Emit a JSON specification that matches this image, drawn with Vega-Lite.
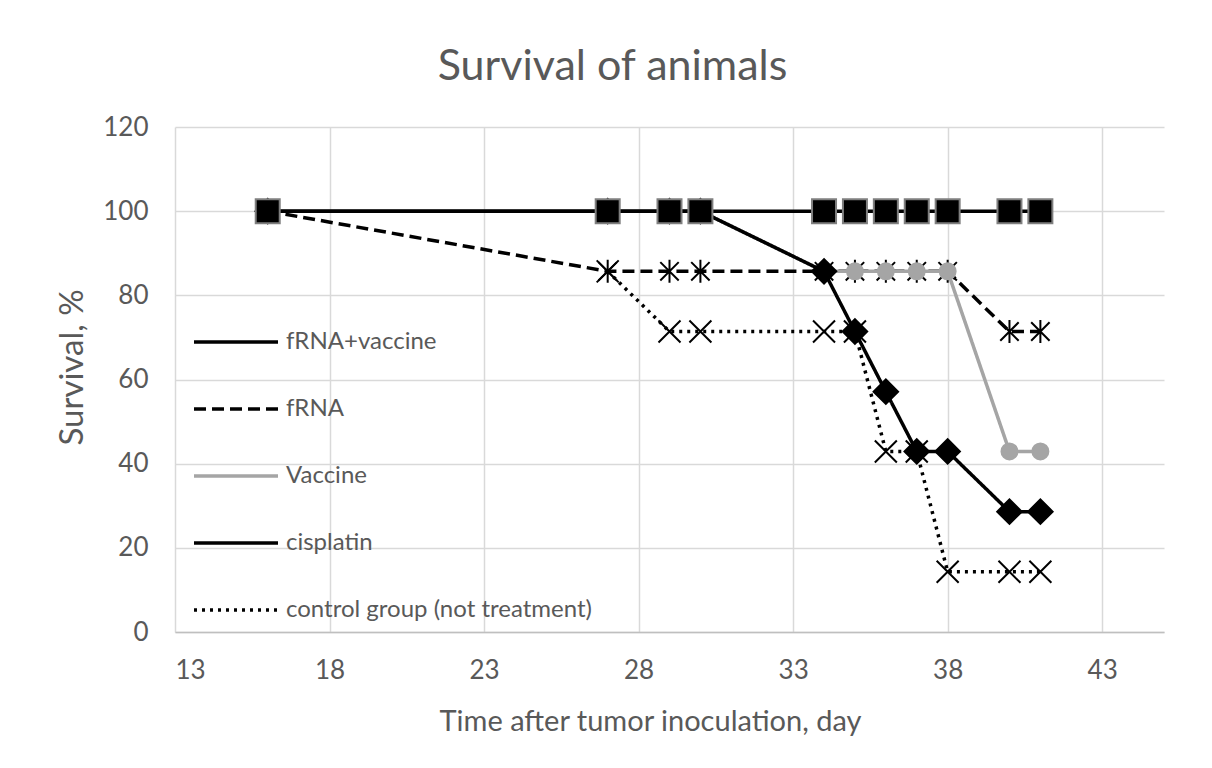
{
  "$schema": "https://vega.github.io/schema/vega-lite/v6.json",
  "width": 989,
  "height": 505,
  "autosize": {"type": "none"},
  "padding": {"left": 175, "top": 127, "right": 48, "bottom": 136},
  "background": "white",
  "title": {
    "text": "Survival of animals",
    "font": "Lato",
    "fontSize": 43,
    "fontWeight": "normal",
    "color": "#595959",
    "anchor": "middle",
    "frame": "group",
    "baseline": "alphabetic",
    "dx": -57,
    "offset": -9
  },
  "config": {
    "view": {"stroke": null},
    "axis": {
      "labelFont": "Lato",
      "labelFontSize": 26,
      "labelColor": "#595959",
      "titleFont": "Lato",
      "titleFontWeight": "normal",
      "titleColor": "#595959",
      "gridColor": "#d9d9d9",
      "gridWidth": 1.5,
      "ticks": false
    }
  },
  "data": {
    "values": [
      {"group": "control group (not treatment)", "day": 27, "survival": 85.7},
      {"group": "control group (not treatment)", "day": 29, "survival": 71.4},
      {"group": "control group (not treatment)", "day": 30, "survival": 71.4},
      {"group": "control group (not treatment)", "day": 34, "survival": 71.4},
      {"group": "control group (not treatment)", "day": 35, "survival": 71.4},
      {"group": "control group (not treatment)", "day": 36, "survival": 42.9},
      {"group": "control group (not treatment)", "day": 37, "survival": 42.9},
      {"group": "control group (not treatment)", "day": 38, "survival": 14.3},
      {"group": "control group (not treatment)", "day": 40, "survival": 14.3},
      {"group": "control group (not treatment)", "day": 41, "survival": 14.3},
      {"group": "fRNA", "day": 16, "survival": 100},
      {"group": "fRNA", "day": 27, "survival": 85.7},
      {"group": "fRNA", "day": 29, "survival": 85.7},
      {"group": "fRNA", "day": 30, "survival": 85.7},
      {"group": "fRNA", "day": 34, "survival": 85.7},
      {"group": "fRNA", "day": 35, "survival": 85.7},
      {"group": "fRNA", "day": 36, "survival": 85.7},
      {"group": "fRNA", "day": 37, "survival": 85.7},
      {"group": "fRNA", "day": 38, "survival": 85.7},
      {"group": "fRNA", "day": 40, "survival": 71.4},
      {"group": "fRNA", "day": 41, "survival": 71.4},
      {"group": "Vaccine", "day": 16, "survival": 100},
      {"group": "Vaccine", "day": 27, "survival": 100},
      {"group": "Vaccine", "day": 29, "survival": 100},
      {"group": "Vaccine", "day": 30, "survival": 100},
      {"group": "Vaccine", "day": 34, "survival": 85.7},
      {"group": "Vaccine", "day": 35, "survival": 85.7},
      {"group": "Vaccine", "day": 36, "survival": 85.7},
      {"group": "Vaccine", "day": 37, "survival": 85.7},
      {"group": "Vaccine", "day": 38, "survival": 85.7},
      {"group": "Vaccine", "day": 40, "survival": 42.9},
      {"group": "Vaccine", "day": 41, "survival": 42.9},
      {"group": "cisplatin", "day": 16, "survival": 100},
      {"group": "cisplatin", "day": 27, "survival": 100},
      {"group": "cisplatin", "day": 29, "survival": 100},
      {"group": "cisplatin", "day": 30, "survival": 100},
      {"group": "cisplatin", "day": 34, "survival": 85.7},
      {"group": "cisplatin", "day": 35, "survival": 71.4},
      {"group": "cisplatin", "day": 36, "survival": 57.1},
      {"group": "cisplatin", "day": 37, "survival": 42.9},
      {"group": "cisplatin", "day": 38, "survival": 42.9},
      {"group": "cisplatin", "day": 40, "survival": 28.6},
      {"group": "cisplatin", "day": 41, "survival": 28.6},
      {"group": "fRNA+vaccine", "day": 16, "survival": 100},
      {"group": "fRNA+vaccine", "day": 27, "survival": 100},
      {"group": "fRNA+vaccine", "day": 29, "survival": 100},
      {"group": "fRNA+vaccine", "day": 30, "survival": 100},
      {"group": "fRNA+vaccine", "day": 34, "survival": 100},
      {"group": "fRNA+vaccine", "day": 35, "survival": 100},
      {"group": "fRNA+vaccine", "day": 36, "survival": 100},
      {"group": "fRNA+vaccine", "day": 37, "survival": 100},
      {"group": "fRNA+vaccine", "day": 38, "survival": 100},
      {"group": "fRNA+vaccine", "day": 40, "survival": 100},
      {"group": "fRNA+vaccine", "day": 41, "survival": 100}
    ]
  },
  "encoding": {
    "x": {
      "field": "day",
      "type": "quantitative",
      "scale": {"domain": [13, 45], "nice": false, "zero": false},
      "axis": {
        "title": "Time after tumor inoculation, day",
        "titleFontSize": 29,
        "titleX": 475,
        "values": [13, 18, 23, 28, 33, 38, 43],
        "domainColor": "#bfbfbf",
        "domainWidth": 1.5,
        "labelPadding": 25,
        "titlePadding": 24
      }
    },
    "y": {
      "field": "survival",
      "type": "quantitative",
      "scale": {"domain": [0, 120], "nice": false},
      "axis": {
        "title": "Survival, %",
        "titleFontSize": 33,
        "titleY": 240,
        "values": [0, 20, 40, 60, 80, 100, 120],
        "domain": false,
        "labelPadding": 27,
        "titlePadding": 13
      }
    }
  },
  "layer": [
    {
      "mark": {"type": "line", "strokeWidth": 3.5},
      "encoding": {
        "color": {
          "field": "group",
          "type": "nominal",
          "scale": {
            "domain": ["fRNA+vaccine", "fRNA", "Vaccine", "cisplatin", "control group (not treatment)"],
            "range": ["#000000", "#000000", "#a5a5a5", "#000000", "#000000"]
          },
          "legend": {
            "title": null,
            "orient": "none",
            "legendX": 17,
            "legendY": 171,
            "direction": "vertical",
            "symbolType": "stroke",
            "symbolSize": 7056,
            "symbolStrokeWidth": 3.5,
            "labelFont": "Lato",
            "labelFontSize": 24,
            "labelColor": "#595959",
            "labelLimit": 600,
            "labelOffset": 6,
            "rowPadding": 11
          }
        },
        "strokeDash": {
          "field": "group",
          "type": "nominal",
          "scale": {
            "domain": ["fRNA+vaccine", "fRNA", "Vaccine", "cisplatin", "control group (not treatment)"],
            "range": [[1, 0], [12, 6], [1, 0], [1, 0], [3, 5]]
          }
        }
      }
    },
    {
      "transform": [{"filter": "datum.group === 'control group (not treatment)'"}],
      "mark": {"type": "point", "shape": "M-1,-1L1,1M-1,1L1,-1", "size": 484, "filled": false, "stroke": "#000000", "strokeWidth": 2, "opacity": 1}
    },
    {
      "transform": [{"filter": "datum.group === 'fRNA'"}],
      "mark": {"type": "point", "shape": "M0,-1L0,1M-0.8,-0.8L0.8,0.8M-0.8,0.8L0.8,-0.8", "size": 529, "filled": false, "stroke": "#000000", "strokeWidth": 2, "opacity": 1}
    },
    {
      "transform": [{"filter": "datum.group === 'Vaccine'"}],
      "mark": {"type": "point", "shape": "circle", "size": 256, "filled": true, "fill": "#a5a5a5", "stroke": "#a5a5a5", "strokeWidth": 2, "opacity": 1}
    },
    {
      "transform": [{"filter": "datum.group === 'cisplatin'"}],
      "mark": {"type": "point", "shape": "diamond", "size": 600, "filled": true, "fill": "#000000", "stroke": "#000000", "strokeWidth": 2, "opacity": 1}
    },
    {
      "transform": [{"filter": "datum.group === 'fRNA+vaccine'"}],
      "mark": {"type": "point", "shape": "square", "size": 576, "filled": true, "fill": "#000000", "stroke": "#7f7f7f", "strokeWidth": 2, "opacity": 1}
    }
  ]
}
